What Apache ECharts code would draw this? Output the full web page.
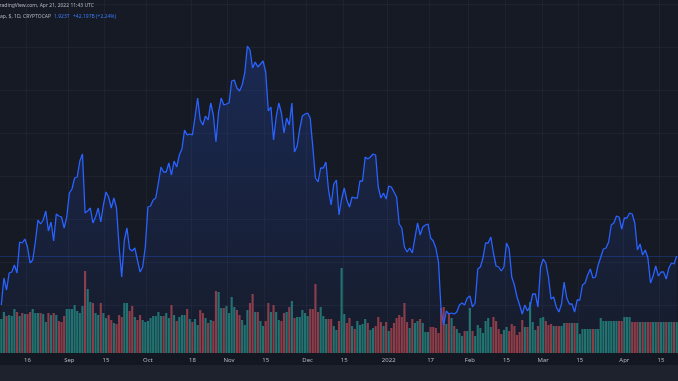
<!DOCTYPE html>
<html>
<head>
<meta charset="utf-8">
<script src="https://cdn.jsdelivr.net/npm/echarts@6/dist/echarts.min.js"></script>
<style>
html,body{margin:0;padding:0;background:#161a25;}
#c{width:678px;height:381px;}
</style>
</head>
<body>
<div id="c"></div>
<script>
// Daily total crypto market cap (trillion USD), 2021-08-06 .. 2022-04-21
const startDate = '2021-08-06';
const price = [
1.678,1.813,1.753,1.838,1.843,1.878,1.838,1.993,1.988,2.008,
1.968,1.888,1.903,1.993,2.103,2.083,2.103,2.148,2.048,2.093,
1.998,2.133,2.123,2.118,2.063,2.118,2.238,2.258,2.313,2.318,
2.398,2.433,2.138,2.148,2.163,2.088,2.118,2.163,2.093,2.178,
2.243,2.218,2.163,2.213,2.163,1.968,1.818,2.003,2.063,1.958,
1.948,1.963,1.903,1.843,1.868,1.968,2.168,2.173,2.203,2.213,
2.288,2.368,2.343,2.343,2.388,2.328,2.398,2.368,2.428,2.458,
2.553,2.528,2.533,2.528,2.618,2.713,2.603,2.578,2.623,2.603,
2.688,2.628,2.493,2.643,2.713,2.678,2.683,2.688,2.798,2.803,
2.763,2.748,2.778,2.838,2.973,2.953,2.863,2.893,2.868,2.883,
2.898,2.843,2.648,2.668,2.503,2.618,2.688,2.638,2.538,2.613,
2.578,2.688,2.443,2.473,2.558,2.623,2.633,2.638,2.613,2.468,
2.313,2.293,2.363,2.363,2.393,2.253,2.178,2.283,2.303,2.128,
2.208,2.263,2.203,2.168,2.218,2.213,2.213,2.298,2.298,2.418,
2.408,2.418,2.433,2.428,2.268,2.213,2.238,2.208,2.273,2.268,
2.243,2.218,2.083,2.063,1.968,1.943,1.963,1.938,2.013,2.088,
2.028,2.068,2.078,2.083,2.013,1.998,1.963,1.893,1.653,1.578,
1.648,1.633,1.638,1.633,1.643,1.678,1.688,1.678,1.713,1.723,
1.668,1.688,1.858,1.868,1.913,1.988,1.988,2.018,1.938,1.873,
1.868,1.848,1.868,1.988,1.958,1.818,1.778,1.718,1.678,1.633,
1.678,1.648,1.673,1.733,1.733,1.668,1.868,1.908,1.888,1.818,
1.708,1.718,1.668,1.643,1.683,1.793,1.713,1.683,1.683,1.643,
1.703,1.703,1.778,1.788,1.828,1.858,1.813,1.818,1.878,1.918,
1.958,1.963,1.993,2.078,2.088,2.123,2.118,2.058,2.113,2.113,
2.138,2.133,2.088,1.953,1.983,1.928,1.953,1.913,1.788,1.823,
1.873,1.823,1.843,1.843,1.808,1.863,1.888,1.883,1.923
];
// Daily volume (relative units)
const volume = [
34,41,37,38,37,44,41,37,40,39,39,41,44,40,40,40,39,31,40,38,40,38,32,31,37,44,44,44,48,42,40,47,82,64,
51,50,40,38,50,40,35,38,33,30,29,38,36,50,50,42,47,36,33,38,33,31,32,35,37,37,41,37,37,40,35,48,38,32,36,38,38,44,34,31,34,28,43,40,35,30,33,32,62,61,45,45,47,40,
56,46,43,38,33,28,43,50,59,41,41,32,27,32,50,41,48,41,33,32,40,41,46,52,35,36,36,43,40,37,44,44,69,41,46,37,34,34,34,27,
23,32,85,39,30,35,27,24,32,28,29,34,30,23,25,27,36,31,27,31,22,25,30,35,38,36,50,31,25,34,30,32,34,30,21,21,26,26,25,20,45,46,29,40,35,
27,24,20,17,22,22,45,22,17,28,25,20,32,35,26,36,32,24,19,23,26,22,29,27,18,21,33,26,26,51,
31,23,27,35,36,32,28,29,27,27,27,27,30,30,30,30,30,30,
19,24,24,24,24,24,24,24,35,32,32,32,32,32,32,32,32,36,36,36,
31,31,31,31,31,31,31,31,31,31,31,31,31,31,31,31,31,31
];
const tickDates = ['2021-08-16','2021-09-01','2021-09-15','2021-10-01','2021-10-18','2021-11-01','2021-11-15','2021-12-01','2021-12-15','2022-01-01','2022-01-17','2022-02-01','2022-02-15','2022-03-01','2022-03-15','2022-04-01','2022-04-15'];
const tickLabels = ['16','Sep','15','Oct','18','Nov','15','Dec','15','2022','17','Feb','15','Mar','15','Apr','15'];
const headerTitle = 'TradingView.com, Apr 21, 2022 11:43 UTC';
const symbolText = 'ap, $, 1D, CRYPTOCAP';
const changeText = '+42.197B (+2.24%)';

const dates = [];
{
  const d0 = new Date(startDate + 'T00:00:00Z');
  for (let i = 0; i < price.length; i++) {
    const d = new Date(d0.getTime() + i * 86400000);
    dates.push(d.toISOString().slice(0, 10));
  }
}
const UP = '#22736b', DOWN = '#913b41';
const volData = volume.map((v, i) => ({
  value: v,
  itemStyle: { color: (i === 0 || price[i] >= price[i - 1]) ? UP : DOWN }
}));
const isTick = (idx, val) => tickDates.indexOf(val !== undefined ? val : dates[idx]) >= 0;
const gridColor = 'rgba(60,66,84,0.22)';

const chart = echarts.init(document.getElementById('c'), null, { renderer: 'canvas' });
const font = 'Noto Sans, Roboto, sans-serif';
chart.setOption({
  backgroundColor: '#161a25',
  animation: false,
  grid: [
    { left: 0, right: 0, top: 0, bottom: 28 },
    { left: 0, right: 0, top: 4, bottom: 33 }
  ],
  xAxis: [
    {
      type: 'category', gridIndex: 0, data: dates, boundaryGap: true,
      axisLine: { show: false }, axisTick: { show: false },
      axisLabel: {
        interval: (i, v) => isTick(i, v),
        formatter: v => tickLabels[tickDates.indexOf(v)],
        color: '#b2b5be', fontSize: 6, margin: 4, fontFamily: font
      },
      splitLine: { show: true, interval: (i, v) => isTick(i, v), lineStyle: { color: gridColor, width: 1 } }
    },
    { type: 'value', gridIndex: 1, min: 0, max: 1, show: false }
  ],
  yAxis: [
    { type: 'value', gridIndex: 0, min: 1.438, max: 3.203, show: false, splitLine: { show: false } },
    { type: 'value', gridIndex: 0, min: 0, max: 353, show: false, splitLine: { show: false } },
    { type: 'value', gridIndex: 1, min: 0, max: 8, interval: 1,
      axisLine: { show: false }, axisTick: { show: false }, axisLabel: { show: false },
      splitLine: { show: true, lineStyle: { color: gridColor, width: 1 } } }
  ],
  series: [
    {
      type: 'bar', xAxisIndex: 0, yAxisIndex: 1, data: volData,
      barCategoryGap: '18%', z: 1, silent: true
    },
    {
      type: 'line', xAxisIndex: 0, yAxisIndex: 0, data: price, z: 3,
      symbol: 'none', smooth: false,
      lineStyle: { color: '#2962ff', width: 1.3 },
      areaStyle: {
        origin: 'start',
        color: new echarts.graphic.LinearGradient(0, 0, 0, 1, [
          { offset: 0, color: 'rgba(41,98,255,0.30)' },
          { offset: 1, color: 'rgba(41,98,255,0.04)' }
        ])
      },
      markLine: {
        silent: true, symbol: 'none', label: { show: false },
        lineStyle: { color: 'rgba(41,98,255,0.28)', width: 1, type: 'solid' },
        data: [{ yAxis: price[price.length - 1] }]
      }
    }
  ],
  graphic: [
    { type: 'rect', left: 0, top: 353, shape: { width: 678, height: 12 }, style: { fill: '#131722' }, z: -1 },
    { type: 'rect', left: 0, top: 365, shape: { width: 678, height: 16 }, style: { fill: '#1e222d' }, z: 10 },
    { type: 'text', left: -3, top: 3, z: 10, style: { text: headerTitle, fill: '#b2b5be', font: '5px ' + font } },
    { type: 'text', left: 0, top: 14, z: 10, style: { text: symbolText, fill: '#b2b5be', font: '5px ' + font } },
    { type: 'text', left: 54, top: 14, z: 10, style: { text: price[price.length - 1].toFixed(3) + 'T', fill: '#3a78f2', font: '5px ' + font } },
    { type: 'text', left: 73, top: 14, z: 10, style: { text: changeText, fill: '#3a78f2', font: '5px ' + font } }
  ]
});
</script>
</body>
</html>
